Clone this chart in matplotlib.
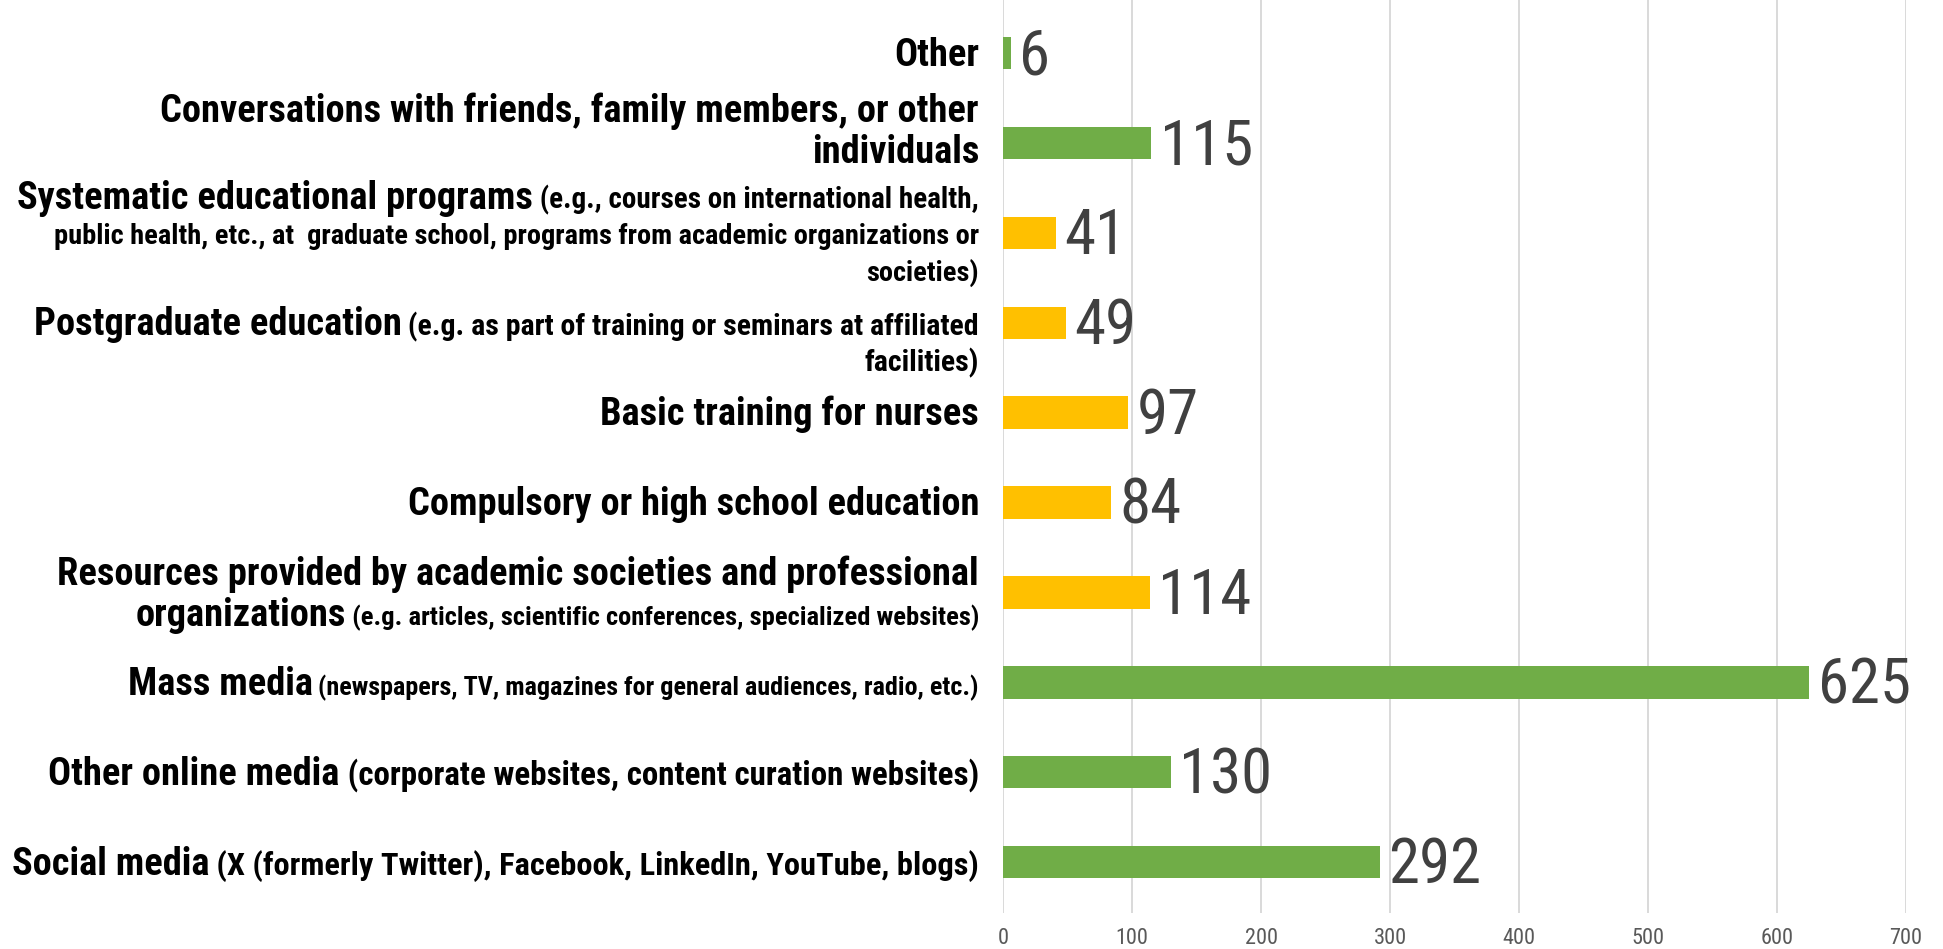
import matplotlib
matplotlib.use("Agg")
import matplotlib.pyplot as plt
from matplotlib import font_manager
from matplotlib.transforms import IdentityTransform

# categories listed bottom -> top as drawn
categories = ["Social media", "Other online media", "Mass media",
              "Resources provided by academic societies and professional organizations",
              "Compulsory or high school education", "Basic training for nurses",
              "Postgraduate education", "Systematic educational programs",
              "Conversations with friends, family members, or other individuals", "Other"]
counts = [292, 130, 625, 114, 84, 97, 49, 41, 115, 6]
is_education = [False, False, False, True, True, True, True, True, False, False]

# label lines: (text, relative size) segments
label_lines = [
    [[("Social media", 1.0), (" (X (formerly Twitter), Facebook, LinkedIn, YouTube, blogs)", 0.845)]],
    [[("Other online media", 1.0), (" (corporate websites, content curation websites)", 0.86)]],
    [[("Mass media", 1.0), (" (newspapers, TV, magazines for general audiences, radio, etc.)", 0.68)]],
    [[("Resources provided by academic societies and professional", 1.0)],
     [("organizations", 1.0), (" (e.g. articles, scientific conferences, specialized websites)", 0.69)]],
    [[("Compulsory or high school education", 1.0)]],
    [[("Basic training for nurses", 1.0)]],
    [[("Postgraduate education", 1.0), (" (e.g. as part of training or seminars at affiliated", 0.78)],
     [("facilities)", 0.78)]],
    [[("Systematic educational programs", 1.0), (" (e.g., courses on international health,", 0.76)],
     [("public health, etc., at  graduate school, programs from academic organizations or", 0.74)],
     [("societies)", 0.74)]],
    [[("Conversations with friends, family members, or other", 1.0)], [("individuals", 1.0)]],
    [[("Other", 1.0)]],
]
# vertical nudge of each label block in pixels (Excel places some blocks off-centre)
label_shift = [0, 0, 0, 0, 0, 0, -18, 0, 13, 0]

names = {f.name for f in font_manager.fontManager.ttflist}
font = "DejaVu Sans"
for cand in ["Liberation Sans Narrow", "Roboto Condensed", "Open Sans Condensed", "Liberation Sans"]:
    if cand in names:
        font = cand
        break
plt.rcParams["font.family"] = font

GREEN = "#70AD47"
YELLOW = "#FFC000"

W, H = 1943, 949
fig = plt.figure(figsize=(W / 100, H / 100), dpi=100)
ax = fig.add_axes([1003 / W, 1 - 913 / H, 903 / W, 913 / H])
renderer = fig.canvas.get_renderer()


def text_width(s, size, weight):
    t = fig.text(0, 0, s, fontsize=size, fontweight=weight)
    w = t.get_window_extent(renderer).width
    t.remove()
    return w


main_size = 20 * 570 / text_width("Compulsory or high school education", 20, "bold")
value_size = 30 * 93 / text_width("625", 30, "normal")

colors = [YELLOW if e else GREEN for e in is_education]
ypos = list(range(len(categories)))
ax.barh(ypos, counts, height=0.36, color=colors, zorder=3)
ax.set_xlim(0, 700)
ax.set_ylim(-0.565, 9.59)
ax.set_xticks(range(0, 701, 100))
ax.set_yticks([])
ax.grid(axis="x", color="#D9D9D9", lw=1.4, zorder=0)
for s in ax.spines.values():
    s.set_visible(False)
ax.tick_params(axis="x", length=0, pad=11, labelsize=16, labelcolor="#595959")

for y, v in zip(ypos, counts):
    ax.annotate(str(v), xy=(v, y), xytext=(6, -3), textcoords="offset points",
                va="center", ha="left", fontsize=value_size, color="#404040")

# category labels, right aligned, mixed sizes on a shared baseline
x_right = 979
main_px = main_size * 100 / 72
for y, lines, shift in zip(ypos, label_lines, label_shift):
    yc = ax.transData.transform((0, y))[1] + shift
    pitches = [41 if max(r for _, r in ln) >= 1.0 else 37 for ln in lines]
    top = yc + sum(pitches) / 2
    for ln, p in zip(lines, pitches):
        center = top - p / 2
        top -= p
        base = center - 0.33 * max(r for _, r in ln) * main_px
        x = x_right
        for txt, rel in reversed(ln):
            t = fig.text(x, base, txt, transform=IdentityTransform(), ha="right", va="baseline",
                         fontsize=main_size * rel, fontweight="bold", color="black")
            x -= t.get_window_extent(renderer).width

fig.savefig("out.png", dpi=100)
